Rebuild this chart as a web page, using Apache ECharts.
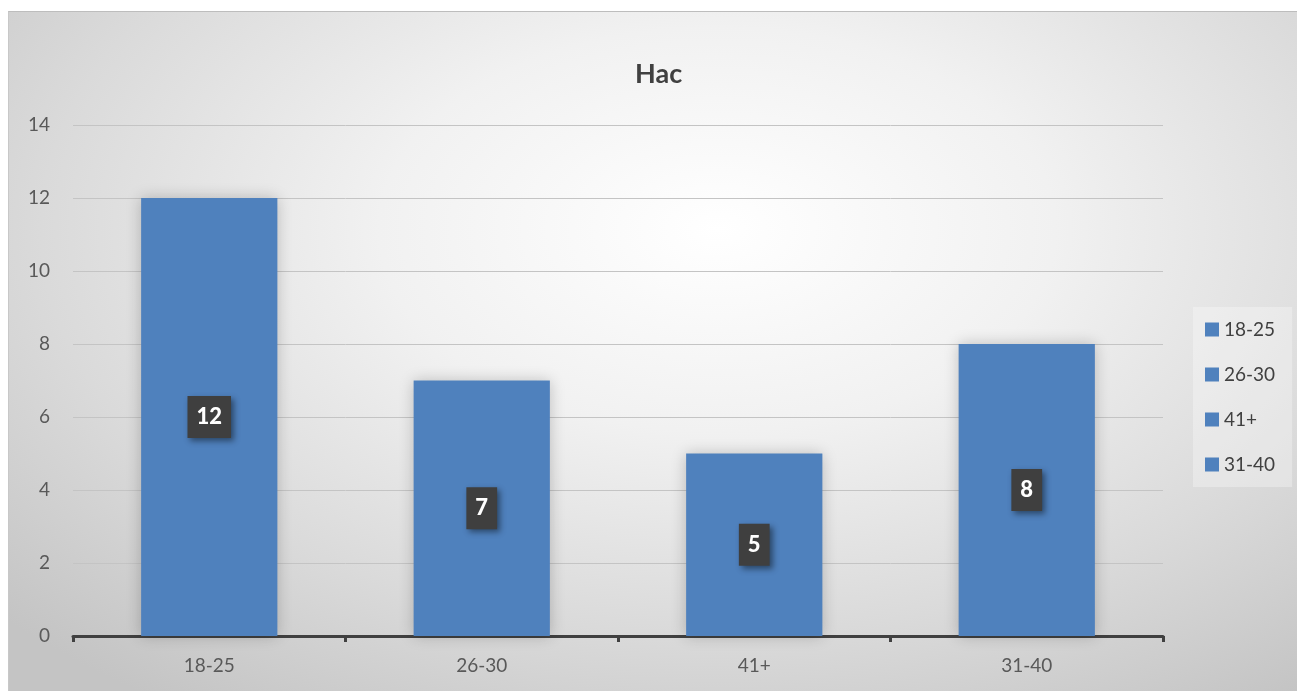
<!DOCTYPE html>
<html>
<head>
<meta charset="utf-8">
<script src="https://cdn.jsdelivr.net/npm/echarts@6/dist/echarts.min.js"></script>
<style>
  html, body { margin: 0; padding: 0; background: #ffffff; }
  #chart {
    position: absolute;
    left: 8px; top: 11px;
    width: 1289px; height: 680px;
    border-top: 1px solid #bdbdbd;
    border-left: 1px solid #c8c8c8;
    box-sizing: border-box;
    background: radial-gradient(ellipse 75% 85% at 55% 32%, #ffffff 0%, #f1f1f1 35%, #dadada 70%, #c4c4c4 100%);
  }
</style>
</head>
<body>
<div id="chart"></div>
<script>
// Age groups and respondent counts
const categories = ['18-25', '26-30', '41+', '31-40'];
const counts = [12, 7, 5, 8];
const yTicks = { min: 0, max: 14, interval: 2 };

const FONT = 'Lato, "Liberation Sans", sans-serif';
const BAR_COLOR = '#4f81bd';

// One series per age group so each appears in the legend; stacked so bars share a slot
const series = categories.map((name, i) => ({
  name: name,
  type: 'bar',
  stack: 'all',
  barWidth: '50%',
  data: categories.map((_, j) => (j === i ? counts[i] : '-')),
  itemStyle: {
    color: BAR_COLOR,
    shadowColor: 'rgba(0,0,0,0.22)',
    shadowBlur: 14
  },
  label: {
    show: true,
    position: 'inside',
    color: '#ffffff',
    fontFamily: FONT,
    fontWeight: 900,
    fontSize: 22,
    lineHeight: 22,
    backgroundColor: '#3f3f3f',
    padding: [10, 9],
    shadowColor: 'rgba(0,0,0,0.45)',
    shadowBlur: 6,
    shadowOffsetX: 3,
    shadowOffsetY: 3
  }
}));

const chart = echarts.init(document.getElementById('chart'));
chart.setOption({
  animation: false,
  color: [BAR_COLOR],
  title: {
    text: 'Нас',
    left: 621,
    top: 44,
    textStyle: { fontFamily: FONT, fontSize: 27, fontWeight: 'bold', color: '#404040' }
  },
  legend: {
    orient: 'vertical',
    left: 1184,
    top: 295,
    itemWidth: 14,
    itemHeight: 14,
    itemGap: 26,
    padding: [13, 17, 13, 12],
    backgroundColor: 'rgba(255,255,255,0.3)',
    icon: 'rect',
    textStyle: { fontFamily: FONT, fontSize: 19, color: '#404040', padding: [0, 0, 0, 0] },
    data: categories
  },
  grid: { left: 64, right: 134, top: 113, bottom: 55 },
  xAxis: {
    type: 'category',
    data: categories,
    axisLine: { lineStyle: { color: '#404040', width: 3 } },
    axisTick: { show: true, length: 6, lineStyle: { color: '#404040', width: 3 } },
    axisLabel: { fontFamily: FONT, fontSize: 19, color: '#595959', margin: 20 }
  },
  yAxis: {
    type: 'value',
    min: yTicks.min,
    max: yTicks.max,
    interval: yTicks.interval,
    axisLine: { show: false },
    axisTick: { show: false },
    axisLabel: { fontFamily: FONT, fontSize: 19, color: '#595959', margin: 23 },
    splitLine: { lineStyle: { color: '#c4c4c4', width: 1 } }
  },
  series: series
});
</script>
</body>
</html>
